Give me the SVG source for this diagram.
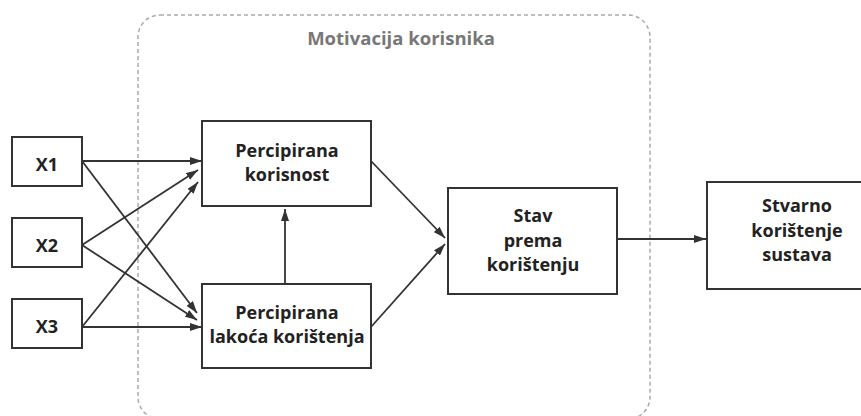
<svg xmlns="http://www.w3.org/2000/svg" width="861" height="416" viewBox="0 0 861 416">
<defs>
<style>
.box{fill:#fff;stroke:#333;stroke-width:2}
.t{font-family:"Open Sans","Liberation Sans",sans-serif;font-weight:700;font-size:18px;fill:#222;text-anchor:middle}
.c{stroke:#333;stroke-width:1.8;fill:none;marker-end:url(#ah)}
.frame{fill:none;stroke:#aaa;stroke-width:1.5;stroke-dasharray:4 3}
.title{font-family:"Open Sans","Liberation Sans",sans-serif;font-weight:700;font-size:18.5px;fill:#777;text-anchor:middle}
</style>
<marker id="ah" viewBox="0 0 12 8" refX="12" refY="4" markerWidth="12" markerHeight="8" markerUnits="userSpaceOnUse" orient="auto">
<path d="M0,0 L12,4 L0,8 Z" fill="#333"/>
</marker>
</defs>
<g id="frame">
<rect class="frame" x="138" y="15" width="512" height="404" rx="22" ry="22"/>
<text class="title" x="401" y="45">Motivacija korisnika</text>
</g>
<g id="connectors">
<line class="c" x1="82" y1="161" x2="202" y2="161"/>
<line class="c" x1="82" y1="161" x2="197" y2="313"/>
<line class="c" x1="82" y1="245" x2="198" y2="170"/>
<line class="c" x1="82" y1="245" x2="197" y2="320"/>
<line class="c" x1="82" y1="327" x2="198" y2="182"/>
<line class="c" x1="82" y1="327" x2="202" y2="327"/>
<line class="c" x1="285" y1="284" x2="285" y2="209"/>
<line class="c" x1="371" y1="161" x2="445" y2="238"/>
<line class="c" x1="371" y1="327" x2="445" y2="244"/>
<line class="c" x1="617" y1="239" x2="706" y2="239"/>
</g>
<g id="x1"><rect class="box" x="12" y="137" width="70" height="49"/><text class="t" x="47" y="171">X1</text></g>
<g id="x2"><rect class="box" x="12" y="218" width="70" height="49"/><text class="t" x="47" y="252">X2</text></g>
<g id="x3"><rect class="box" x="12" y="299" width="70" height="49"/><text class="t" x="47" y="333">X3</text></g>
<g id="pu"><rect class="box" x="202" y="121" width="169" height="85"/><text class="t" x="287" y="157">Percipirana</text><text class="t" x="287" y="181">korisnost</text></g>
<g id="peou"><rect class="box" x="202" y="284" width="169" height="84"/><text class="t" x="287" y="319">Percipirana</text><text class="t" x="287" y="343">lakoća korištenja</text></g>
<g id="stav"><rect class="box" x="448" y="188" width="169" height="106"/><text class="t" x="533" y="222">Stav</text><text class="t" x="533" y="247">prema</text><text class="t" x="533" y="271">korištenju</text></g>
<g id="stvarno"><rect class="box" x="707" y="182" width="180" height="107"/><text class="t" x="797" y="212">Stvarno</text><text class="t" x="797" y="237">korištenje</text><text class="t" x="797" y="261">sustava</text></g>
</svg>
